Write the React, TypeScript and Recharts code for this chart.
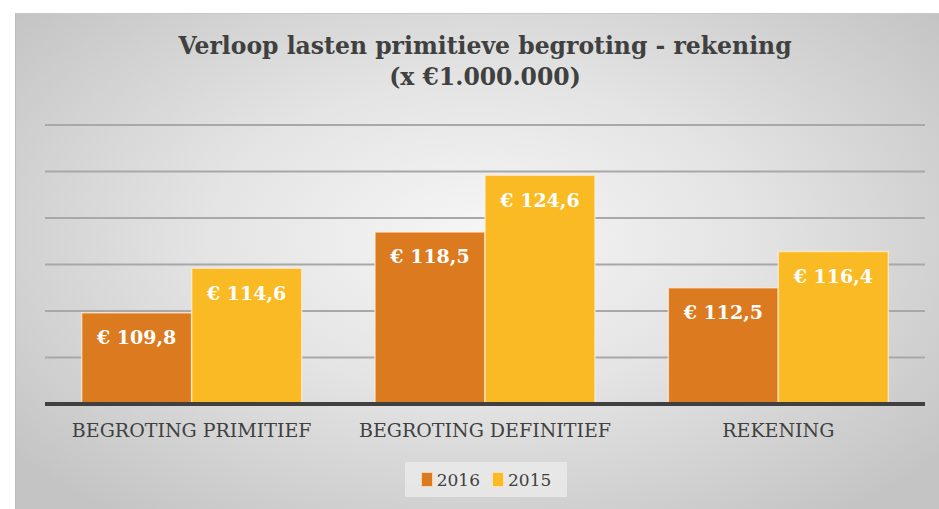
import React from 'react';
import { BarChart, Bar, XAxis, YAxis, CartesianGrid, LabelList } from 'recharts';

const categories = ['BEGROTING PRIMITIEF', 'BEGROTING DEFINITIEF', 'REKENING'];
const values2016 = [109.8, 118.5, 112.5];
const values2015 = [114.6, 124.6, 116.4];
const yTicks = [100, 105, 110, 115, 120, 125, 130];
const seriesNames = ['2016', '2015'];
const titleLines = ['Verloop lasten primitieve begroting - rekening', '(x €1.000.000)'];

const data = categories.map((c, i) => ({ name: c, s2016: values2016[i], s2015: values2015[i] }));

const COLORS = ['#DC7A20', '#FABA24'];
const FONT = '"DejaVu Serif", Georgia, serif';

const fmt = (v: any) => '€ ' + Number(v).toFixed(1).replace('.', ',');

export default function App() {
  return (
    <div style={{ position: 'absolute', left: 0, top: 0, width: 939, height: 509, background: '#fff', overflow: 'hidden', fontFamily: FONT }}>
      <div
        style={{
          position: 'absolute', left: 15, top: 13, width: 924, height: 496,
          background: 'radial-gradient(ellipse 65% 70% at 50% 45%, #f6f6f6 0%, #e4e4e4 45%, #c4c4c4 100%)',
          borderLeft: '1px solid #bdbdbd', borderTop: '1px solid #c8c8c8',
        }}
      />
      <div style={{ position: 'absolute', left: 15, top: 31, width: 940, textAlign: 'center', fontWeight: 'bold', fontSize: 23.5, lineHeight: '31px', color: '#404040' }}>
        <div>{titleLines[0]}</div>
        <div>{titleLines[1]}</div>
      </div>
      <div style={{ position: 'absolute', left: 0, top: 0 }}>
        <BarChart width={939} height={509} data={data} margin={{ top: 125, right: 14, left: 45, bottom: 65 }} barGap={0} barCategoryGap="12.5%">
          <CartesianGrid horizontal vertical={false} stroke="#a8a8a8" strokeWidth={2} />
          <YAxis hide domain={[100, 130]} ticks={yTicks} allowDataOverflow />
          <XAxis
            dataKey="name"
            height={40}
            axisLine={{ stroke: '#404040', strokeWidth: 4 }}
            tickLine={false}
            tickSize={12}
            tickMargin={8}
            tick={{ fill: '#404040', fontSize: 19, fontFamily: FONT }}
          />
          <Bar dataKey="s2016" name={seriesNames[0]} fill={COLORS[0]} stroke="rgba(255,240,220,0.7)" strokeWidth={1.5} isAnimationActive={false}>
            <LabelList dataKey="s2016" position="insideTop" offset={18} formatter={fmt} fill="#fff" style={{ fontWeight: 'bold', fontSize: 19, fontFamily: FONT }} />
          </Bar>
          <Bar dataKey="s2015" name={seriesNames[1]} fill={COLORS[1]} stroke="rgba(255,240,220,0.7)" strokeWidth={1.5} isAnimationActive={false}>
            <LabelList dataKey="s2015" position="insideTop" offset={18} formatter={fmt} fill="#fff" style={{ fontWeight: 'bold', fontSize: 19, fontFamily: FONT }} />
          </Bar>
        </BarChart>
      </div>
      <div style={{ position: 'absolute', left: 405, top: 462, width: 162, height: 35, background: 'rgba(236,236,236,0.75)', display: 'flex', alignItems: 'center', justifyContent: 'center', gap: 12 }}>
        {seriesNames.map((n, i) => (
          <div key={n} style={{ display: 'flex', alignItems: 'center', gap: 4 }}>
            <div style={{ width: 10, height: 13, background: COLORS[i], border: '1px solid rgba(255,235,210,0.8)' }} />
            <span style={{ fontSize: 17, color: '#404040' }}>{n}</span>
          </div>
        ))}
      </div>
    </div>
  );
}
